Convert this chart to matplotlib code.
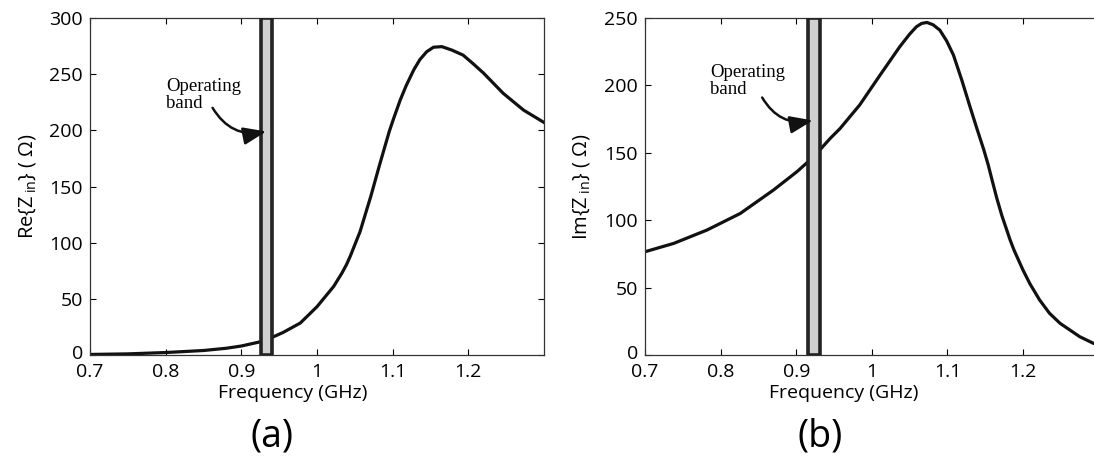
import numpy as np
import matplotlib
matplotlib.use("Agg")
import matplotlib.pyplot as plt
from matplotlib.patches import Rectangle
from matplotlib.transforms import ScaledTranslation

# dane: (a) część rzeczywista, (b) część urojona
freq_re = [0.700, 0.750, 0.800, 0.850, 0.880, 0.900, 0.930, 0.955, 0.978, 1.000,
           1.011, 1.022, 1.033, 1.039, 1.044, 1.057, 1.066, 1.071, 1.083, 1.0955,
           1.101, 1.110, 1.118, 1.128, 1.136, 1.145, 1.154, 1.165, 1.178, 1.193,
           1.206, 1.220, 1.246, 1.273, 1.300]
re_zin = [0.5, 1.0, 2.2, 4.0, 6.0, 8.0, 12.5, 20, 28.5, 43,
          52, 61, 73, 80.5, 88, 110, 130, 141, 170, 199,
          210, 227, 240, 254, 263, 270, 274, 274.5, 271.5, 267,
          259.5, 251, 233, 218, 207]

freq_im = [0.700, 0.738, 0.782, 0.826, 0.870, 0.901, 0.923, 0.945, 0.958, 0.984,
           1.011, 1.037, 1.050, 1.059, 1.066, 1.073, 1.081, 1.090, 1.099, 1.108,
           1.119, 1.130, 1.139, 1.148, 1.154, 1.159, 1.165, 1.172, 1.183, 1.188,
           1.200, 1.209, 1.222, 1.235, 1.249, 1.275, 1.293, 1.300]
im_zin = [76.6, 82.8, 92.7, 105, 122.4, 136, 147, 160.7, 168, 185.5,
          207.7, 228.7, 238, 243.5, 246, 246.7, 245, 241, 233, 222.5,
          204, 184, 168, 152.5, 141, 130, 117, 103.5, 85.3, 78,
          63, 53, 40.8, 31, 23.5, 13.6, 8.7, 7.5]

band_re = (0.926, 0.940)
band_im = (0.916, 0.931)

xticks = [0.7, 0.8, 0.9, 1.0, 1.1, 1.2]
xtick_labels = ["0.7", "0.8", "0.9", "1", "1.1", "1.2"]

plt.rcParams["font.family"] = ["Open Sans", "DejaVu Sans"]
plt.rcParams["font.size"] = 14
plt.rcParams["mathtext.fontset"] = "custom"
plt.rcParams["mathtext.rm"] = "Open Sans"

W, H = 1094, 459
fig = plt.figure(figsize=(W / 100, H / 100), dpi=100)


def panel(left_px, right_px, freq, vals, ylim, yticks, band, ylabel, letter,
          txt_xy, tail, head, xl_x, let_x, yl_x, show_right):
    ax = fig.add_axes([left_px / W, (H - 355) / H, (right_px - left_px) / W, 337 / H])
    ax.plot(freq, vals, color="#111111", lw=2.3, solid_joinstyle="round")
    ax.add_patch(Rectangle((band[0], 0), band[1] - band[0], ylim[1],
                           facecolor="#d0d0d0", edgecolor="#222222", lw=2.6, zorder=3))
    ax.set_xlim(0.7, 1.3)
    ax.set_ylim(*ylim)
    ax.set_xticks(xticks)
    ax.set_xticklabels(xtick_labels)
    ax.set_yticks(yticks)
    ax.tick_params(direction="in", top=True, right=show_right, length=4, width=0.8)
    ax.tick_params(axis="x", pad=6)
    ax.tick_params(axis="y", pad=5)
    # "0" na osi y lekko w górę, jak w oryginale
    fig.canvas.draw()
    lab0 = ax.get_yticklabels()[0]
    lab0.set_transform(lab0.get_transform() + ScaledTranslation(0, 3 / 100, fig.dpi_scale_trans))
    for s in ax.spines.values():
        s.set_linewidth(0.9)
        s.set_color("#333333")
    ax.set_xlabel("Frequency (GHz)")
    ax.xaxis.label.set_va("center")
    ax.xaxis.set_label_coords(xl_x, -0.113)
    ax.set_ylabel(ylabel, fontsize=14.5)
    ax.yaxis.label.set_va("center")
    ax.yaxis.set_label_coords(yl_x, 0.50)
    ax.text(txt_xy[0], txt_xy[1], "Operating\nband", family="Liberation Serif",
            fontsize=13.5, ha="left", va="top", linespacing=1.05)
    ax.annotate("", xy=head, xytext=tail,
                arrowprops=dict(arrowstyle="-|>,head_length=1.0,head_width=0.38",
                                connectionstyle="arc3,rad=0.35", color="#111111", lw=1.8,
                                shrinkA=0, shrinkB=0),
                zorder=5)
    ax.text(let_x, -0.243, letter, transform=ax.transAxes, ha="center", va="center",
            fontsize=27)
    return ax


panel(90, 544, freq_re, re_zin, (0, 300), [0, 50, 100, 150, 200, 250, 300], band_re,
      r"Re{Z$\,_{\mathrm{in}}$} ( Ω)", "(a)", (0.801, 247), (0.862, 220), (0.933, 199),
      0.447, 0.401, -0.137, True)
panel(645, 1098.6, freq_im, im_zin, (0, 250), [0, 50, 100, 150, 200, 250], band_im,
      r"Im{Z$\,_{\mathrm{in}}$} ( Ω)", "(b)", (0.786, 216), (0.855, 191), (0.922, 174),
      0.439, 0.386, -0.139, False)

fig.savefig("out.png", dpi=100)
